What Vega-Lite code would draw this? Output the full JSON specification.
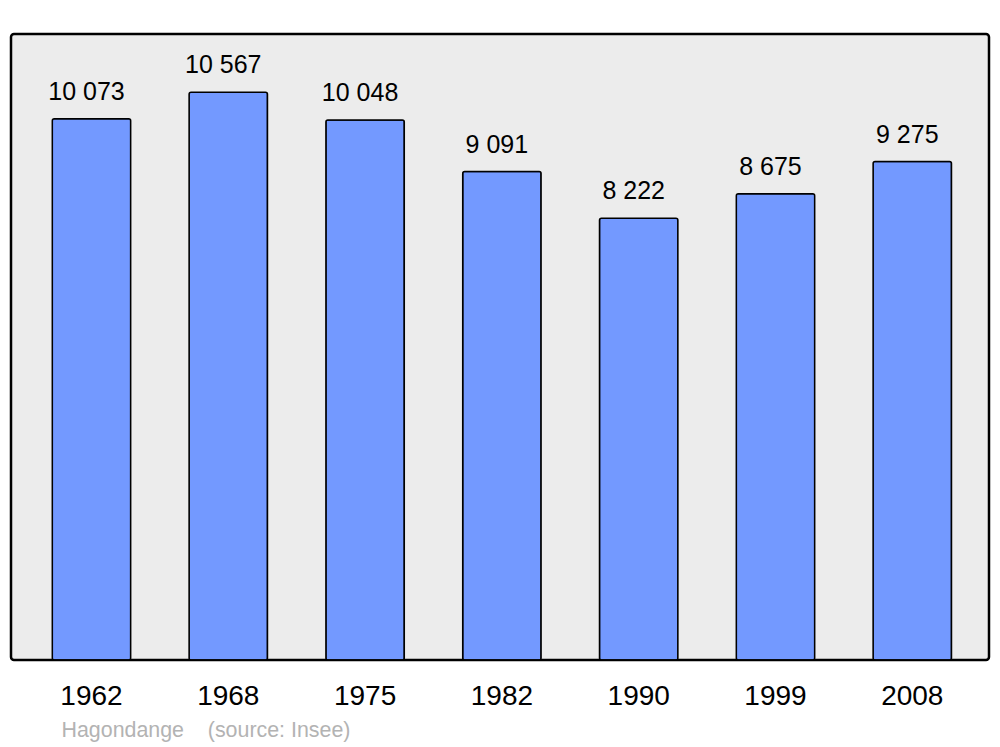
{
  "$schema": "https://vega.github.io/schema/vega-lite/v6.json",
  "width": 978,
  "height": 626,
  "autosize": {"type": "none"},
  "padding": {"left": 11, "top": 34, "right": 11, "bottom": 87},
  "background": "#ffffff",
  "config": {
    "font": "Liberation Sans",
    "view": {"fill": "#ececec", "stroke": "#000000", "strokeWidth": 2.5, "cornerRadius": 3},
    "locale": {"number": {"decimal": ",", "thousands": "\u00a0", "grouping": [3], "currency": ["", " €"]}}
  },
  "data": {
    "values": [
      {"year": "1962", "population": 10073},
      {"year": "1968", "population": 10567},
      {"year": "1975", "population": 10048},
      {"year": "1982", "population": 9091},
      {"year": "1990", "population": 8222},
      {"year": "1999", "population": 8675},
      {"year": "2008", "population": 9275}
    ]
  },
  "encoding": {
    "x": {
      "field": "year",
      "type": "ordinal",
      "sort": null,
      "scale": {"paddingInner": 0.427, "paddingOuter": 0.288, "align": 0.524},
      "axis": {
        "domain": false,
        "ticks": false,
        "labelAngle": 0,
        "labelFontSize": 28,
        "labelColor": "#000000",
        "labelBaseline": "middle",
        "labelPadding": 36,
        "title": "Hagondange\u00a0\u00a0\u00a0\u00a0(source: Insee)",
        "titleAnchor": "start",
        "titleAlign": "left",
        "titleX": 50,
        "titleY": 70,
        "titleBaseline": "middle",
        "titleFontSize": 21.4,
        "titleFontWeight": "normal",
        "titleColor": "#b3b3b3"
      }
    },
    "y": {
      "field": "population",
      "type": "quantitative",
      "scale": {"domain": [0, 11650], "nice": false},
      "axis": null
    }
  },
  "layer": [
    {
      "mark": {"type": "bar", "fill": "#7399ff", "stroke": "#000000", "strokeWidth": 1.5, "cornerRadius": 2}
    },
    {
      "mark": {"type": "text", "fontSize": 25, "color": "#000000", "baseline": "alphabetic", "dy": -19, "dx": -5},
      "encoding": {"text": {"field": "population", "type": "quantitative", "format": ",d"}}
    }
  ]
}
